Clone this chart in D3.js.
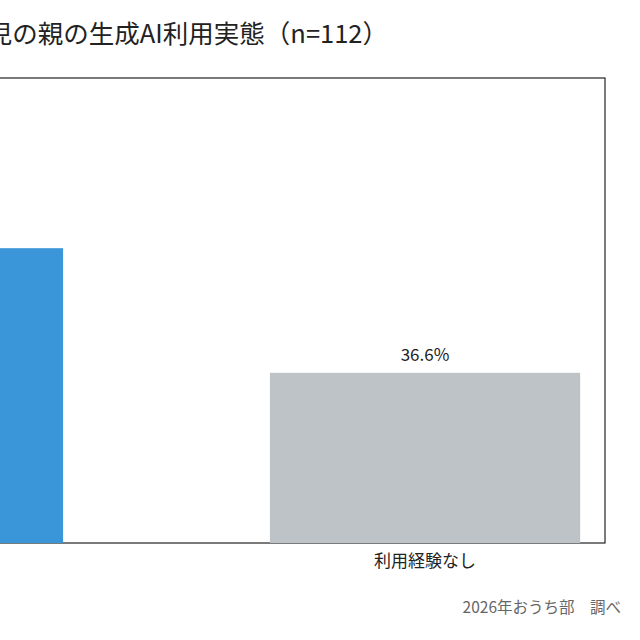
<!DOCTYPE html>
<html><head><meta charset="utf-8">
<script src="https://cdn.jsdelivr.net/npm/d3@7"></script>
<style>body{margin:0;background:#fff}text{font-family:"Noto Sans CJK JP","Noto Sans",sans-serif}</style>
</head><body><svg id="c" width="640" height="640"></svg>
<script>
const categories = ["利用経験あり", "利用経験なし"];
const values = [63.4, 36.6];
const colors = ["#3a96d9", "#bec3c7"];
const titleText = "未就学児の親の生成AI利用実態（n=112）";
const sourceText = "2026年おうち部　調べ";

const svg = d3.select("#c");
const L = -272, R = 605, T = 78, B = 543;
const x = d3.scaleBand().domain(categories).range([L, R]).paddingInner(0.4).paddingOuter(0.048);
const y = d3.scaleLinear().domain([0, 100]).range([B, T]);

svg.append("rect").attr("x", L).attr("y", T).attr("width", R - L).attr("height", B - T)
  .attr("fill", "none").attr("stroke", "#222").attr("stroke-width", 1.2);

svg.selectAll(".bar").data(values).join("rect")
  .attr("x", (d, i) => x(categories[i])).attr("width", x.bandwidth())
  .attr("y", d => y(d)).attr("height", d => B - y(d))
  .attr("fill", (d, i) => colors[i]);

svg.selectAll(".val").data(values).join("text")
  .attr("x", (d, i) => x(categories[i]) + x.bandwidth() / 2)
  .attr("y", d => y(d) - 12).attr("text-anchor", "middle")
  .attr("font-size", 17).attr("fill", "#222").text(d => d.toFixed(1) + "%");

const ax = svg.append("g").attr("transform", `translate(0,${B})`)
  .call(d3.axisBottom(x).tickSize(0).tickPadding(12));
ax.select(".domain").remove();
ax.selectAll("text").attr("font-size", 17).attr("fill", "#222")
  .style("font-family", '"Noto Sans CJK JP",sans-serif');

svg.append("text").attr("x", 388).attr("y", 43).attr("text-anchor", "end")
  .attr("font-size", 25.5).attr("fill", "#222").text(titleText);
svg.append("text").attr("x", 621).attr("y", 613).attr("text-anchor", "end")
  .attr("font-size", 15.5).attr("fill", "#666").text(sourceText);
</script></body></html>
